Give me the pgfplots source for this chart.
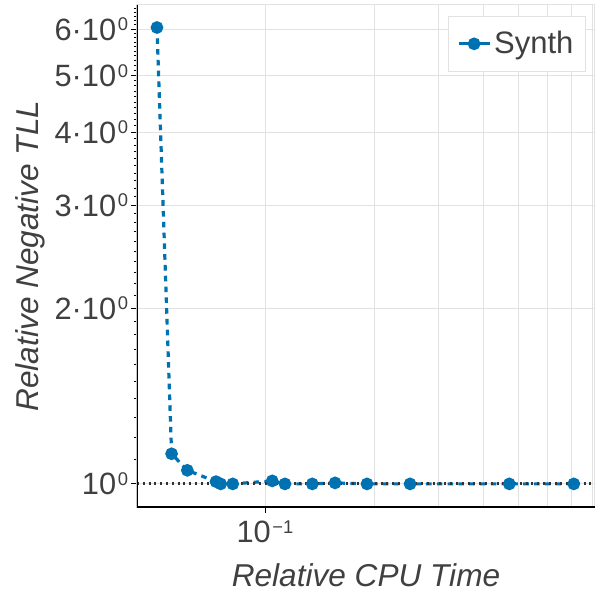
\documentclass[border=0pt]{standalone}
\usepackage{fontspec}
\setmainfont{Liberation Sans}
\usepackage{pgfplots}
\pgfplotsset{compat=1.18}
\definecolor{synth}{RGB}{0,114,178}
\definecolor{txt}{RGB}{64,64,64}
\definecolor{gridc}{RGB}{226,226,226}
\newcommand\sups[1]{\kern0.8pt\raisebox{4.6pt}{\fontsize{9.2}{10}\selectfont #1}}
\begin{document}
\begin{tikzpicture}
\begin{axis}[
  scale only axis, width=229pt, height=251pt,
  xmode=log, ymode=log,
  xmin=0.0444, xmax=0.811, ymin=0.913, ymax=6.6,
  axis line style={gridc, line width=0.5pt},
  tick pos=left, tick align=outside,
  major tick length=2.8pt, minor tick length=1.6pt,
  tick style={black, line width=0.5pt},
  xtick={0.1}, xticklabels={10\sups{−1}},
  extra x ticks={0.2,0.3,0.4,0.5,0.6,0.7,0.8}, extra x tick labels={},
  extra x tick style={major tick length=0pt, xmajorgrids=true},
  ytick={1,2,3,4,5,6},
  yticklabels={10\sups{0}, 2·10\sups{0}, 3·10\sups{0}, 4·10\sups{0}, 5·10\sups{0}, 6·10\sups{0}},
  minor ytick={1.1,1.2,1.3,1.4,1.5,1.6,1.7,1.8,1.9,2.1,2.2,2.3,2.4,2.5,2.6,2.7,2.8,2.9,3.1,3.2,3.3,3.4,3.5,3.6,3.7,3.8,3.9,4.1,4.2,4.3,4.4,4.5,4.6,4.7,4.8,4.9,5.1,5.2,5.3,5.4,5.5,5.6,5.7,5.8,5.9,6.1,6.2,6.3,6.4,6.5},
  xminorgrids=false, yminorgrids=false,
  xmajorgrids=true, ymajorgrids=true,
  major grid style={gridc, line width=0.5pt},
  ticklabel style={font=\fontsize{15.4}{18}\selectfont, text=txt, inner sep=0pt},
  yticklabel style={anchor=base east, xshift=-1.5pt, yshift=-5.5pt},
  xticklabel style={anchor=north, yshift=-4pt},
  xlabel={Relative CPU Time}, ylabel={Relative Negative TLL},
  label style={font=\fontsize{15.8}{18}\selectfont\itshape, text=txt},
  xlabel style={at={(axis description cs:0.5,0)}, anchor=base, yshift=-39.5pt},
  ylabel style={at={(axis description cs:0,0.5)}, anchor=center, yshift=53.5pt},
  legend style={at={(1,1)}, anchor=north east, xshift=-4.5pt, yshift=-5.5pt,
    draw=gridc, line width=0.5pt, fill=white, inner xsep=4.5pt, inner ysep=5.8pt,
    font=\fontsize{15.5}{18}\selectfont, text=txt,
    nodes={inner sep=1.5pt}},
  legend image code/.code={\draw[mark repeat=2,mark phase=2,#1,solid] plot coordinates {(0pt,0pt) (7.75pt,0pt) (15.5pt,0pt)};},
  legend cell align=left,
]
\addplot[synth, line width=1.6pt, dash pattern=on 2.8pt off 2.6pt,
  mark=*, mark size=2.35pt, mark options={solid, fill=synth, draw=synth}]
coordinates {
(0.0504,6.04)
(0.0553,1.126)
(0.0611,1.055)
(0.0733,1.009)
(0.0755,1.0)
(0.0815,1.0)
(0.1047,1.012)
(0.1135,1.0)
(0.135,1.0)
(0.156,1.004)
(0.191,1.0)
(0.251,1.0)
(0.471,1.0)
(0.709,1.0)
};
\addlegendentry{Synth}
\addplot[forget plot, color={rgb,255:red,50;green,50;blue,50}, line width=1.6pt, dash pattern=on 1pt off 1.9pt]
coordinates {(0.0444,1) (0.811,1)};
\draw[black, line width=0.6pt] (rel axis cs:0,1) -- (rel axis cs:0,0) -- (rel axis cs:1,0);
\end{axis}
\pgfresetboundingbox
\path ([shift={(-68.5pt,-46.5pt)}]current axis.south west) rectangle ([shift={(2.5pt,2.5pt)}]current axis.north east);
\end{tikzpicture}
\end{document}
